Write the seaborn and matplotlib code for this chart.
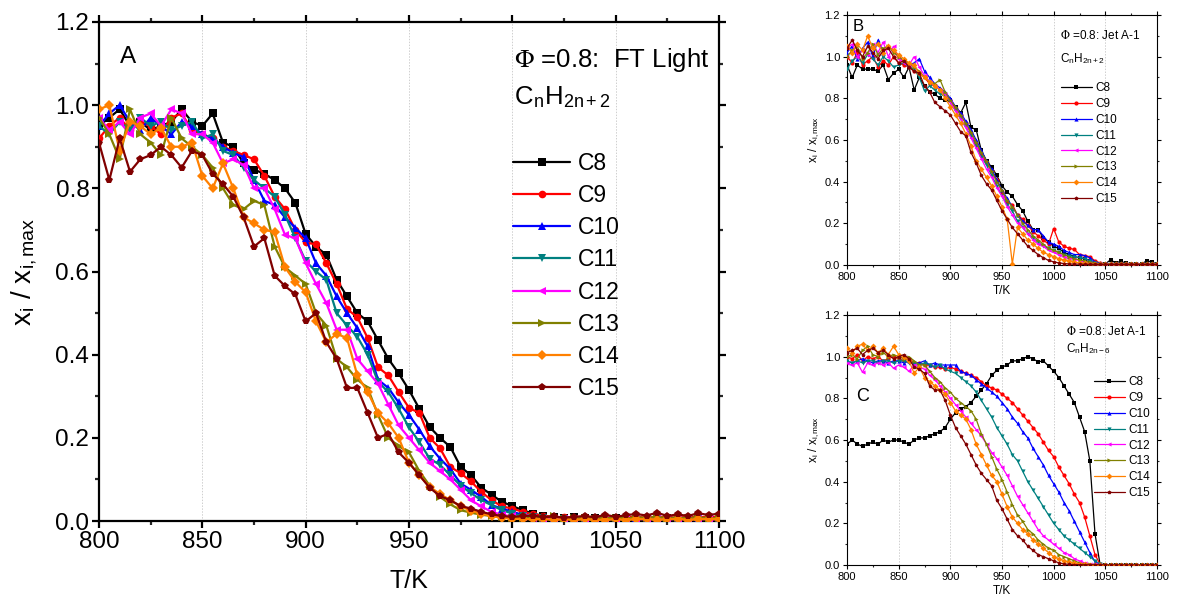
import matplotlib
matplotlib.use("Agg")
import matplotlib.pyplot as plt
from matplotlib.lines import Line2D
from matplotlib.ticker import MultipleLocator
import seaborn as sns

# ---------------- data ----------------
T = [800, 805, 810, 815, 820, 825, 830, 835, 840, 845,
     850, 855, 860, 865, 870, 875, 880, 885, 890, 895,
     900, 905, 910, 915, 920, 925, 930, 935, 940, 945,
     950, 955, 960, 965, 970, 975, 980, 985, 990, 995,
     1000, 1005, 1010, 1015, 1020, 1025, 1030, 1035, 1040, 1045,
     1050, 1055, 1060, 1065, 1070, 1075, 1080, 1085, 1090, 1095,
     1100]

labels = ["C8", "C9", "C10", "C11", "C12", "C13", "C14", "C15"]
colors = ["#000000", "#FF0000", "#0000FF", "#008080", "#FF00FF", "#808000", "#FF8000", "#800000"]
markers = ["s", "o", "^", "v", "<", ">", "D", "p"]

# Panel A: FT Light, CnH2n+2
A_C8 = [0.95, 0.97, 0.99, 0.95, 0.96, 0.94, 0.95, 0.96, 0.99, 0.96,
        0.95, 0.98, 0.91, 0.90, 0.86, 0.845, 0.835, 0.82, 0.80, 0.765,
        0.69, 0.66, 0.64, 0.58, 0.54, 0.50, 0.48, 0.435, 0.39, 0.355,
        0.315, 0.27, 0.226, 0.20, 0.178, 0.13, 0.11, 0.08, 0.063, 0.046,
        0.036, 0.026, 0.018, 0.012, 0.010, 0.008, 0.009, 0.007, 0.008, 0.006,
        0.007, 0.006, 0.008, 0.007, 0.006, 0.008, 0.007, 0.006, 0.008, 0.007,
        0.008]
A_C9 = [0.92, 0.95, 0.97, 0.94, 0.96, 0.95, 0.93, 0.97, 0.98, 0.94,
        0.93, 0.92, 0.90, 0.89, 0.88, 0.87, 0.83, 0.78, 0.75, 0.70,
        0.67, 0.665, 0.62, 0.57, 0.51, 0.49, 0.44, 0.37, 0.35, 0.31,
        0.272, 0.26, 0.20, 0.175, 0.13, 0.115, 0.095, 0.07, 0.05, 0.035,
        0.030, 0.022, 0.016, 0.012, 0.010, 0.009, 0.008, 0.010, 0.008, 0.009,
        0.008, 0.009, 0.010, 0.008, 0.010, 0.009, 0.008, 0.010, 0.009, 0.010,
        0.009]
A_C10 = [0.95, 0.98, 1.00, 0.96, 0.94, 0.97, 0.95, 0.93, 0.96, 0.95,
         0.93, 0.92, 0.90, 0.885, 0.875, 0.82, 0.77, 0.76, 0.73, 0.705,
         0.68, 0.62, 0.59, 0.54, 0.50, 0.464, 0.42, 0.34, 0.32, 0.285,
         0.255, 0.22, 0.18, 0.15, 0.125, 0.09, 0.075, 0.058, 0.038, 0.030,
         0.022, 0.015, 0.011, 0.008, 0.007, 0.006, 0.007, 0.006, 0.005, 0.006,
         0.005, 0.006, 0.007, 0.006, 0.005, 0.006, 0.005, 0.007, 0.006, 0.005,
         0.006]
A_C11 = [0.95, 0.93, 0.96, 0.94, 0.97, 0.95, 0.96, 0.94, 0.95, 0.96,
         0.92, 0.93, 0.89, 0.88, 0.85, 0.82, 0.80, 0.78, 0.736, 0.68,
         0.625, 0.60, 0.58, 0.50, 0.47, 0.443, 0.40, 0.335, 0.31, 0.27,
         0.225, 0.19, 0.15, 0.135, 0.11, 0.085, 0.067, 0.05, 0.038, 0.026,
         0.018, 0.012, 0.009, 0.007, 0.006, 0.005, 0.006, 0.005, 0.004, 0.005,
         0.004, 0.005, 0.006, 0.005, 0.004, 0.005, 0.006, 0.004, 0.005, 0.006,
         0.005]
A_C12 = [0.97, 0.94, 0.96, 0.93, 0.97, 0.98, 0.95, 0.99, 0.98, 0.93,
         0.93, 0.91, 0.86, 0.87, 0.856, 0.80, 0.80, 0.75, 0.688, 0.68,
         0.62, 0.57, 0.524, 0.46, 0.46, 0.39, 0.36, 0.33, 0.28, 0.23,
         0.20, 0.17, 0.14, 0.12, 0.10, 0.075, 0.05, 0.035, 0.022, 0.015,
         0.011, 0.009, 0.007, 0.006, 0.005, 0.004, 0.005, 0.004, 0.005, 0.004,
         0.005, 0.004, 0.005, 0.004, 0.005, 0.004, 0.005, 0.004, 0.005, 0.004,
         0.004]
A_C13 = [0.97, 0.93, 0.87, 0.99, 0.93, 0.91, 0.88, 0.97, 0.92, 0.90,
         0.88, 0.85, 0.80, 0.76, 0.75, 0.77, 0.76, 0.66, 0.61, 0.59,
         0.57, 0.50, 0.47, 0.39, 0.37, 0.34, 0.32, 0.255, 0.20, 0.18,
         0.165, 0.12, 0.085, 0.058, 0.04, 0.026, 0.020, 0.015, 0.012, 0.010,
         0.008, 0.007, 0.009, 0.008, 0.012, 0.006, 0.007, 0.008, 0.006, 0.007,
         0.008, 0.006, 0.009, 0.007, 0.010, 0.006, 0.008, 0.007, 0.009, 0.006,
         0.008]
A_C14 = [0.99, 1.00, 0.89, 0.96, 0.95, 0.93, 0.945, 0.90, 0.90, 0.91,
         0.83, 0.80, 0.86, 0.80, 0.73, 0.716, 0.70, 0.695, 0.61, 0.575,
         0.55, 0.48, 0.43, 0.45, 0.44, 0.35, 0.31, 0.26, 0.235, 0.20,
         0.14, 0.11, 0.082, 0.065, 0.05, 0.035, 0.025, 0.018, 0.012, 0.008,
         0.006, 0.005, 0.004, 0.004, 0.003, 0.004, 0.003, 0.004, 0.003, 0.003,
         0.004, 0.003, 0.004, 0.005, 0.003, 0.004, 0.005, 0.003, 0.004, 0.005,
         0.004]
A_C15 = [0.91, 0.82, 0.92, 0.84, 0.87, 0.88, 0.90, 0.88, 0.85, 0.89,
         0.88, 0.835, 0.81, 0.78, 0.73, 0.66, 0.68, 0.59, 0.565, 0.545,
         0.48, 0.50, 0.43, 0.39, 0.32, 0.32, 0.26, 0.20, 0.21, 0.165,
         0.14, 0.11, 0.08, 0.06, 0.05, 0.036, 0.03, 0.022, 0.016, 0.012,
         0.010, 0.012, 0.013, 0.009, 0.011, 0.008, 0.010, 0.012, 0.009, 0.015,
         0.010, 0.014, 0.017, 0.013, 0.020, 0.012, 0.016, 0.012, 0.019, 0.014,
         0.018]

# Panel B: Jet A-1, CnH2n+2
B_C8 = [0.96, 0.90, 0.96, 0.94, 0.94, 0.94, 0.93, 0.96, 0.89, 0.92,
        0.94, 0.90, 0.95, 0.84, 0.90, 0.86, 0.83, 0.82, 0.80, 0.79,
        0.79, 0.76, 0.73, 0.78, 0.66, 0.65, 0.55, 0.50, 0.47, 0.43,
        0.38, 0.35, 0.33, 0.29, 0.26, 0.21, 0.17, 0.17, 0.13, 0.11,
        0.09, 0.08, 0.06, 0.05, 0.04, 0.035, 0.03, 0.02, 0.01, 0.005,
        0.005, 0.025, 0.010, 0.018, 0.008, 0.005, 0.004, 0.005, 0.020, 0.015,
        0.004]
B_C9 = [1.00, 0.97, 1.02, 0.96, 0.98, 1.00, 0.95, 0.98, 0.96, 1.00,
        0.97, 0.96, 0.95, 0.93, 0.92, 0.90, 0.87, 0.86, 0.84, 0.82,
        0.79, 0.75, 0.72, 0.68, 0.63, 0.58, 0.53, 0.49, 0.45, 0.41,
        0.35, 0.30, 0.29, 0.24, 0.22, 0.19, 0.16, 0.14, 0.12, 0.10,
        0.175, 0.11, 0.09, 0.08, 0.075, 0.05, 0.045, 0.04, 0.02, 0.01,
        0.005, 0.006, 0.004, 0.005, 0.004, 0.005, 0.004, 0.005, 0.004, 0.005,
        0.004]
B_C10 = [1.02, 1.05, 0.99, 1.04, 1.07, 1.00, 1.08, 1.02, 1.05, 1.03,
         1.00, 0.98, 0.96, 0.97, 0.99, 0.93, 0.90, 0.87, 0.85, 0.83,
         0.80, 0.76, 0.73, 0.69, 0.65, 0.60, 0.55, 0.50, 0.46, 0.41,
         0.36, 0.32, 0.28, 0.24, 0.21, 0.19, 0.17, 0.17, 0.14, 0.11,
         0.10, 0.09, 0.07, 0.06, 0.05, 0.05, 0.045, 0.035, 0.015, 0.008,
         0.005, 0.004, 0.006, 0.005, 0.004, 0.006, 0.005, 0.004, 0.005, 0.006,
         0.005]
B_C11 = [0.94, 0.98, 1.00, 0.97, 1.01, 0.99, 0.96, 1.00, 0.98, 0.95,
         0.96, 0.97, 0.95, 0.94, 0.90, 0.835, 0.86, 0.84, 0.82, 0.81,
         0.78, 0.74, 0.70, 0.66, 0.62, 0.57, 0.52, 0.48, 0.43, 0.38,
         0.33, 0.29, 0.26, 0.21, 0.18, 0.15, 0.13, 0.11, 0.09, 0.08,
         0.07, 0.06, 0.05, 0.045, 0.04, 0.035, 0.03, 0.02, 0.01, 0.006,
         0.004, 0.005, 0.004, 0.003, 0.004, 0.005, 0.004, 0.003, 0.004, 0.005,
         0.004]
B_C12 = [1.04, 1.06, 1.00, 1.03, 1.01, 1.06, 1.02, 1.07, 1.00, 1.05,
         0.99, 0.97, 0.96, 1.00, 0.95, 0.91, 0.88, 0.86, 0.84, 0.82,
         0.78, 0.74, 0.70, 0.66, 0.61, 0.56, 0.51, 0.46, 0.42, 0.37,
         0.33, 0.28, 0.24, 0.20, 0.18, 0.15, 0.12, 0.10, 0.09, 0.07,
         0.06, 0.05, 0.04, 0.03, 0.03, 0.02, 0.015, 0.01, 0.006, 0.004,
         0.003, 0.004, 0.003, 0.004, 0.003, 0.004, 0.003, 0.004, 0.003, 0.004,
         0.003]
B_C13 = [1.00, 1.03, 1.05, 0.99, 1.02, 1.06, 1.01, 1.04, 1.05, 1.02,
         1.00, 0.98, 0.97, 0.95, 0.93, 0.90, 0.88, 0.87, 0.89, 0.83,
         0.79, 0.76, 0.72, 0.68, 0.64, 0.59, 0.54, 0.50, 0.45, 0.40,
         0.36, 0.31, 0.28, 0.24, 0.20, 0.17, 0.14, 0.12, 0.10, 0.08,
         0.07, 0.06, 0.05, 0.04, 0.03, 0.025, 0.02, 0.012, 0.008, 0.005,
         0.004, 0.003, 0.004, 0.003, 0.004, 0.003, 0.004, 0.003, 0.004, 0.003,
         0.004]
B_C14 = [1.05, 1.02, 1.06, 1.03, 1.10, 1.04, 1.06, 1.02, 1.05, 1.03,
         1.01, 0.99, 0.97, 0.96, 0.92, 0.90, 0.88, 0.86, 0.84, 0.80,
         0.76, 0.72, 0.68, 0.63, 0.57, 0.50, 0.46, 0.42, 0.38, 0.33,
         0.28, 0.22, 0.005, 0.18, 0.15, 0.12, 0.10, 0.08, 0.06, 0.05,
         0.04, 0.03, 0.025, 0.02, 0.015, 0.01, 0.008, 0.006, 0.005, 0.004,
         0.003, 0.003, 0.003, 0.003, 0.003, 0.003, 0.003, 0.003, 0.003, 0.003,
         0.003]
B_C15 = [1.04, 1.08, 1.03, 1.00, 1.05, 1.02, 0.99, 1.03, 1.04, 1.00,
         0.97, 0.98, 0.95, 0.93, 0.92, 0.86, 0.83, 0.78, 0.76, 0.74,
         0.72, 0.68, 0.64, 0.62, 0.54, 0.49, 0.43, 0.39, 0.36, 0.31,
         0.26, 0.22, 0.18, 0.15, 0.12, 0.09, 0.07, 0.05, 0.035, 0.022,
         0.015, 0.010, 0.007, 0.005, 0.004, 0.004, 0.003, 0.003, 0.003, 0.003,
         0.003, 0.003, 0.003, 0.003, 0.003, 0.003, 0.003, 0.003, 0.003, 0.003,
         0.003]

# Panel C: Jet A-1, CnH2n-6
C_C8 = [0.58, 0.60, 0.58, 0.57, 0.58, 0.59, 0.58, 0.60, 0.59, 0.60,
        0.60, 0.59, 0.58, 0.60, 0.61, 0.61, 0.62, 0.63, 0.64, 0.66,
        0.70, 0.73, 0.75, 0.76, 0.78, 0.81, 0.84, 0.87, 0.91, 0.935,
        0.95, 0.96, 0.98, 0.98, 0.99, 1.00, 0.99, 0.975, 0.98, 0.955,
        0.93, 0.90, 0.86, 0.82, 0.78, 0.71, 0.64, 0.50, 0.15, 0.0,
        0.0, 0.0, 0.0, 0.0, 0.0, 0.0, 0.0, 0.0, 0.0, 0.0,
        0.0]
C_C9 = [1.00, 0.99, 1.01, 0.98, 1.00, 0.99, 1.00, 0.98, 0.99, 1.00,
        0.99, 0.98, 0.99, 0.97, 0.97, 0.96, 0.96, 0.95, 0.95, 0.94,
        0.95, 0.94, 0.93, 0.92, 0.91, 0.90, 0.88, 0.86, 0.85, 0.84,
        0.82, 0.80, 0.78, 0.75, 0.72, 0.69, 0.66, 0.63, 0.59, 0.55,
        0.52, 0.47, 0.43, 0.39, 0.34, 0.30, 0.23, 0.14, 0.05, 0.003,
        0.0, 0.0, 0.0, 0.0, 0.0, 0.0, 0.0, 0.0, 0.0, 0.0,
        0.0]
C_C10 = [0.98, 0.97, 0.98, 0.99, 0.98, 0.97, 0.98, 0.98, 0.97, 0.98,
         0.98, 0.97, 0.98, 0.97, 0.97, 0.98, 0.96, 0.97, 0.96, 0.96,
         0.96, 0.96, 0.93, 0.92, 0.91, 0.89, 0.87, 0.85, 0.83, 0.81,
         0.78, 0.75, 0.71, 0.68, 0.64, 0.61, 0.56, 0.52, 0.48, 0.43,
         0.39, 0.35, 0.30, 0.26, 0.21, 0.16, 0.11, 0.06, 0.015, 0.0,
         0.0, 0.0, 0.0, 0.0, 0.0, 0.0, 0.0, 0.0, 0.0, 0.0,
         0.0]
C_C11 = [0.98, 0.97, 0.98, 0.97, 0.98, 0.98, 0.97, 0.98, 0.98, 0.97,
         0.98, 0.98, 0.97, 0.97, 0.96, 0.97, 0.96, 0.95, 0.96, 0.94,
         0.93, 0.92, 0.90, 0.88, 0.86, 0.83, 0.79, 0.75, 0.71, 0.66,
         0.62, 0.58, 0.53, 0.50, 0.45, 0.40, 0.36, 0.32, 0.28, 0.24,
         0.20, 0.17, 0.14, 0.12, 0.10, 0.08, 0.06, 0.04, 0.02, 0.005,
         0.0, 0.0, 0.0, 0.0, 0.0, 0.0, 0.0, 0.0, 0.0, 0.0,
         0.0]
C_C12 = [0.97, 0.96, 0.97, 0.925, 0.97, 0.96, 0.97, 0.96, 0.97, 0.945,
         0.96, 0.95, 0.93, 0.96, 0.95, 0.94, 0.91, 0.89, 0.86, 0.83,
         0.80, 0.77, 0.74, 0.71, 0.68, 0.65, 0.62, 0.58, 0.54, 0.51,
         0.47, 0.43, 0.38, 0.33, 0.29, 0.25, 0.21, 0.17, 0.14, 0.12,
         0.10, 0.08, 0.06, 0.05, 0.03, 0.02, 0.01, 0.005, 0.003, 0.002,
         0.0, 0.0, 0.0, 0.0, 0.0, 0.0, 0.0, 0.0, 0.0, 0.0,
         0.0]
C_C13 = [1.00, 1.01, 0.99, 1.03, 1.05, 1.01, 1.00, 1.02, 1.00, 1.01,
         1.00, 0.99, 1.00, 0.98, 0.96, 0.96, 0.93, 0.90, 0.88, 0.85,
         0.83, 0.80, 0.78, 0.76, 0.74, 0.70, 0.63, 0.58, 0.52, 0.46,
         0.41, 0.35, 0.29, 0.24, 0.21, 0.17, 0.15, 0.12, 0.10, 0.08,
         0.07, 0.05, 0.04, 0.03, 0.02, 0.01, 0.005, 0.003, 0.002, 0.001,
         0.0, 0.0, 0.0, 0.0, 0.0, 0.0, 0.0, 0.0, 0.0, 0.0,
         0.0]
C_C14 = [1.04, 1.02, 1.05, 1.06, 1.03, 1.05, 1.02, 1.04, 1.01, 1.05,
         1.01, 1.00, 0.98, 0.92, 0.95, 0.90, 0.88, 0.86, 0.84, 0.82,
         0.78, 0.74, 0.72, 0.70, 0.65, 0.58, 0.53, 0.48, 0.43, 0.40,
         0.34, 0.28, 0.23, 0.20, 0.17, 0.15, 0.12, 0.10, 0.08, 0.06,
         0.04, 0.03, 0.02, 0.015, 0.01, 0.005, 0.003, 0.002, 0.001, 0.001,
         0.0, 0.0, 0.0, 0.0, 0.0, 0.0, 0.0, 0.0, 0.0, 0.0,
         0.0]
C_C15 = [1.02, 1.03, 1.04, 1.01, 1.03, 1.04, 1.02, 1.03, 1.01, 0.99,
         1.00, 1.01, 0.99, 0.95, 0.94, 0.92, 0.86, 0.84, 0.84, 0.79,
         0.72, 0.66, 0.62, 0.58, 0.53, 0.48, 0.44, 0.41, 0.38, 0.31,
         0.27, 0.22, 0.17, 0.14, 0.12, 0.09, 0.07, 0.05, 0.04, 0.03,
         0.02, 0.01, 0.005, 0.003, 0.002, 0.002, 0.001, 0.001, 0.001, 0.001,
         0.0, 0.0, 0.0, 0.0, 0.0, 0.0, 0.0, 0.0, 0.0, 0.0,
         0.0]

panelA = [A_C8, A_C9, A_C10, A_C11, A_C12, A_C13, A_C14, A_C15]
panelB = [B_C8, B_C9, B_C10, B_C11, B_C12, B_C13, B_C14, B_C15]
panelC = [C_C8, C_C9, C_C10, C_C11, C_C12, C_C13, C_C14, C_C15]

xticks = [800, 850, 900, 950, 1000, 1050, 1100]
yticks = [0.0, 0.2, 0.4, 0.6, 0.8, 1.0, 1.2]

# ---------------- style ----------------
sns.set_theme(style="ticks")
plt.rcParams["font.family"] = ["Liberation Sans", "DejaVu Sans"]
plt.rcParams["mathtext.fontset"] = "stix"
plt.rcParams["axes.unicode_minus"] = False

W, H = 1177, 610
fig = plt.figure(figsize=(W / 100, H / 100), dpi=100)
fig.patch.set_facecolor("white")

axA = fig.add_axes([99 / W, 1 - 521 / H, 620 / W, 499 / H])
axB = fig.add_axes([847 / W, 1 - 265 / H, 310 / W, 250 / H])
axC = fig.add_axes([847 / W, 1 - 565 / H, 310 / W, 250 / H])

ylabel = r"x$_\mathregular{i}$ / x$_\mathregular{i,max}$"


def style_axes(ax, fs, spw, tl, lab_fs, xlab_pad, ylab_pad, ylab_fs=None):
    ax.set_facecolor("white")
    ax.set_xlim(800, 1100)
    ax.set_ylim(0, 1.2)
    ax.set_xticks(xticks)
    ax.set_yticks(yticks)
    ax.set_yticklabels(["%.1f" % v for v in yticks])
    ax.xaxis.set_minor_locator(MultipleLocator(25))
    ax.yaxis.set_minor_locator(MultipleLocator(0.1))
    for s in ax.spines.values():
        s.set_visible(True)
        s.set_linewidth(spw)
        s.set_color("black")
    ax.tick_params(axis="both", which="major", direction="out", length=tl, width=spw,
                   labelsize=fs, colors="black", pad=2,
                   top=True, right=True)
    ax.tick_params(axis="both", which="minor", direction="out", length=tl * 0.6, width=spw,
                   top=True, right=True)
    ax.grid(False)
    for xv in [850, 900, 950, 1000, 1050]:
        ax.axvline(xv, color="#cfcfcf", lw=0.7, ls=(0, (1.5, 1.5)), zorder=0)
    ax.set_xlabel("T/K", fontsize=lab_fs, labelpad=xlab_pad, color="black")
    ax.set_ylabel(ylabel, fontsize=ylab_fs or lab_fs, labelpad=ylab_pad, color="black")


def draw(ax, data, ms, lw):
    for vals, c, m in zip(data, colors, markers):
        sns.lineplot(x=T, y=vals, ax=ax, color=c, marker=m, markersize=ms,
                     markeredgewidth=0, linewidth=lw, estimator=None,
                     sort=False, zorder=3)


def legend(ax, x_px, y_px, fs, ms, lw, hl, sp):
    handles = [Line2D([0], [0], color=c, marker=m, markersize=ms, lw=lw, markeredgewidth=0)
               for c, m in zip(colors, markers)]
    leg = ax.legend(handles, labels, loc="upper left",
                    bbox_to_anchor=(x_px / W, 1 - y_px / H), bbox_transform=fig.transFigure,
                    frameon=False, fontsize=fs, handlelength=hl, handletextpad=0.35,
                    labelspacing=sp, borderpad=0, borderaxespad=0)
    for t in leg.get_texts():
        t.set_color("black")
    return leg


# Panel A
draw(axA, panelA, 5.5, 1.6)
style_axes(axA, 17.5, 1.6, 5, 18, 12, 12, ylab_fs=20)
legend(axA, 513, 152, 16.5, 5.5, 1.6, 2.5, 0.40)
axA.text(814, 1.115, "A", fontsize=17.5, ha="center", va="center", color="black")
axA.text(1001, 1.108, r"$\Phi$ =0.8:  FT Light", fontsize=18.5, ha="left", va="center", color="black")
axA.text(1001, 1.02, r"C$_\mathregular{n}$H$_\mathregular{2n+2}$", fontsize=18.5, ha="left", va="center", color="black")

# Panel B
draw(axB, panelB, 3.0, 0.9)
style_axes(axB, 8, 0.8, 3, 8.5, 2, 2)
legend(axB, 1061, 82, 8.5, 3.0, 0.9, 2.6, 0.33)
axB.text(811, 1.145, "B", fontsize=12, ha="center", va="center", color="black")
axB.text(1006, 1.10, r"$\Phi$ =0.8: Jet A-1", fontsize=8.5, ha="left", va="center", color="black")
axB.text(1006, 0.99, r"C$_\mathregular{n}$H$_\mathregular{2n+2}$", fontsize=8.5, ha="left", va="center", color="black")

# Panel C
draw(axC, panelC, 3.0, 0.9)
style_axes(axC, 8, 0.8, 3, 8.5, 2, 2)
legend(axC, 1094, 376, 8.5, 3.0, 0.9, 2.6, 0.33)
axC.text(815, 0.81, "C", fontsize=13, ha="center", va="center", color="black")
axC.text(1012, 1.12, r"$\Phi$ =0.8: Jet A-1", fontsize=8.5, ha="left", va="center", color="black")
axC.text(1012, 1.04, r"C$_\mathregular{n}$H$_\mathregular{2n-6}$", fontsize=8.5, ha="left", va="center", color="black")

fig.savefig("out.png", dpi=100, facecolor="white")
